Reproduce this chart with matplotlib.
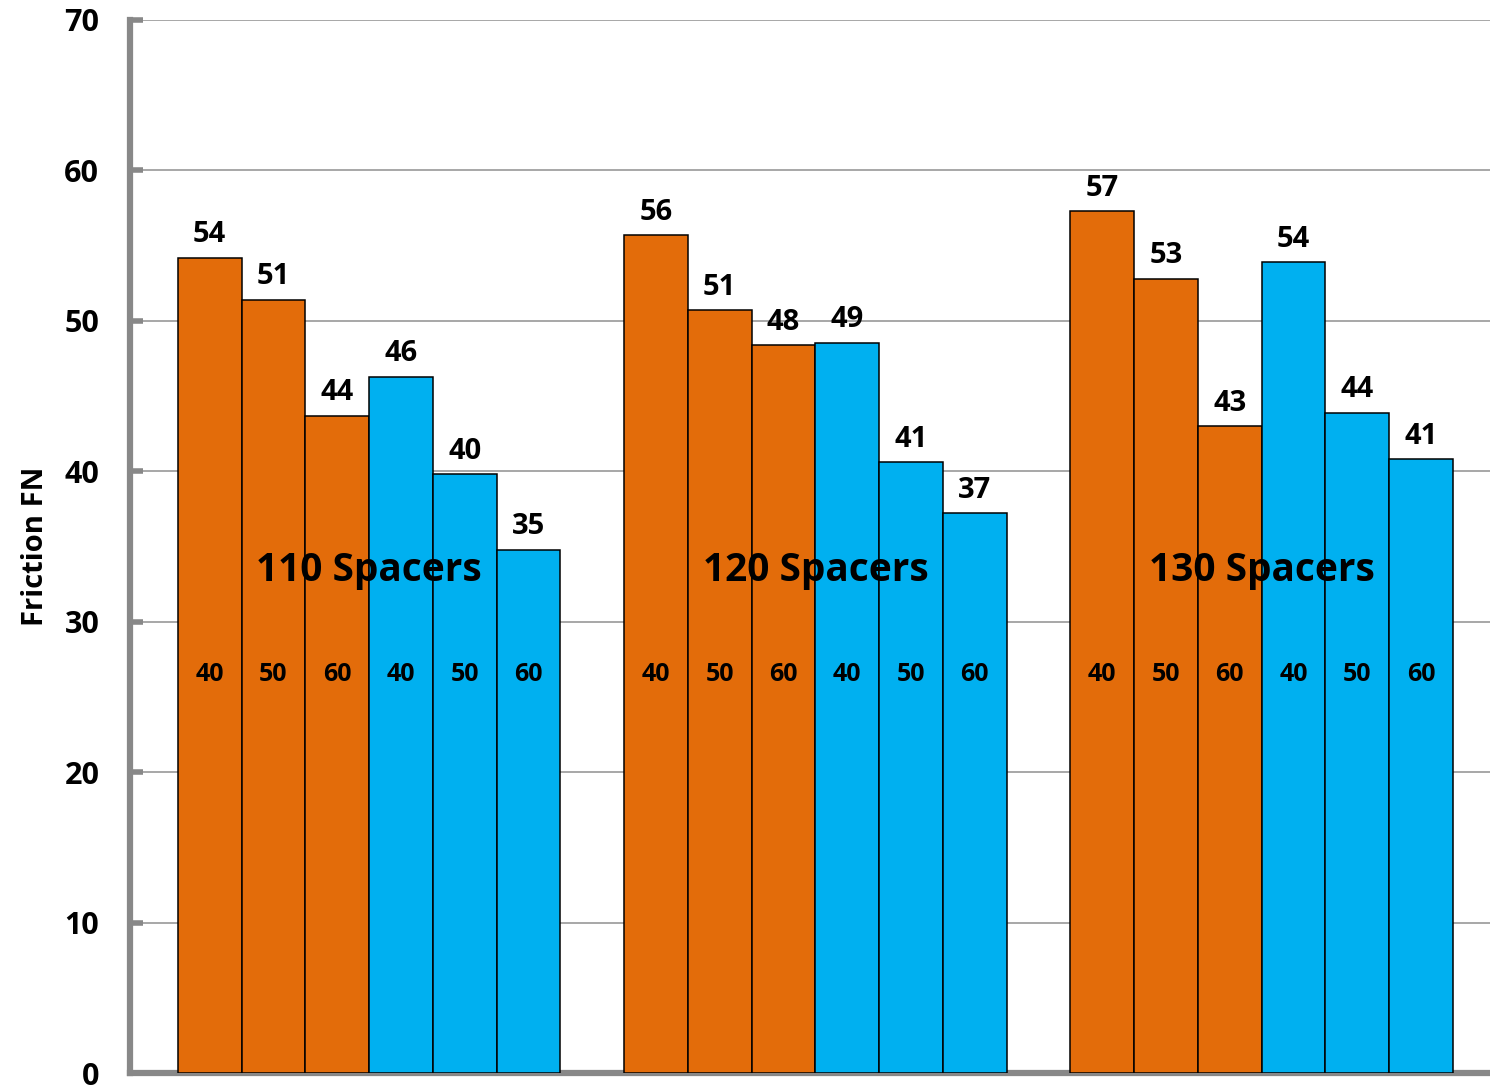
import numpy as np
import matplotlib
matplotlib.use("Agg")
import matplotlib.pyplot as plt

plt.rcParams["font.family"] = ["Open Sans", "DejaVu Sans"]
plt.rcParams["font.weight"] = "bold"

groups = ["110 Spacers", "120 Spacers", "130 Spacers"]
sub_labels = ["40", "50", "60", "40", "50", "60"]
orange_vals = [[54.2, 51.4, 43.7], [55.7, 50.7, 48.4], [57.3, 52.8, 43.0]]
blue_vals = [[46.3, 39.8, 34.8], [48.55, 40.6, 37.2], [53.9, 43.9, 40.8]]

ORANGE = "#E36C0A"
BLUE = "#00B0F0"
GRAY = "#888888"

fig = plt.figure(figsize=(14.9, 10.85), dpi=100)
ax = fig.add_axes([0.0872, 0.011, 0.9128, 0.9706])

start = 0.75
for gi, g in enumerate(groups):
    vals = orange_vals[gi] + blue_vals[gi]
    cols = [ORANGE] * 3 + [BLUE] * 3
    xs = start + gi * 7 + np.arange(6) + 0.5
    ax.bar(xs, vals, width=1.0, color=cols, edgecolor="black", linewidth=1.1, zorder=3)
    for x, v, s in zip(xs, vals, sub_labels):
        ax.annotate(f"{v:.0f}", (x, v), xytext=(0, 6), textcoords="offset points",
                    ha="center", va="bottom", fontsize=21, fontweight="bold", zorder=5)
        ax.text(x, 26.5, s, ha="center", va="center", fontsize=18, fontweight="bold", zorder=5)
    ax.text(xs.mean(), 33.4, g, ha="center", va="center", fontsize=28, fontweight="bold", zorder=5)

ax.set_xlim(0, 21.33)
ax.set_ylim(0, 70)
ax.set_yticks(range(0, 71, 10))
ax.set_xticks([])
ax.grid(axis="y", color="#A0A0A0", linewidth=1.3, zorder=0)
ax.set_axisbelow(True)
for s in ["top", "right"]:
    ax.spines[s].set_visible(False)
for s in ["left", "bottom"]:
    ax.spines[s].set_color(GRAY)
    ax.spines[s].set_linewidth(4.5)
ax.tick_params(axis="y", direction="in", length=9, width=4, color=GRAY, pad=22,
               labelsize=22)
for lab in ax.get_yticklabels():
    lab.set_fontweight("bold")
ax.set_ylabel("Friction FN", fontsize=21, fontweight="bold", labelpad=10)

fig.savefig("out.png", dpi=100)
